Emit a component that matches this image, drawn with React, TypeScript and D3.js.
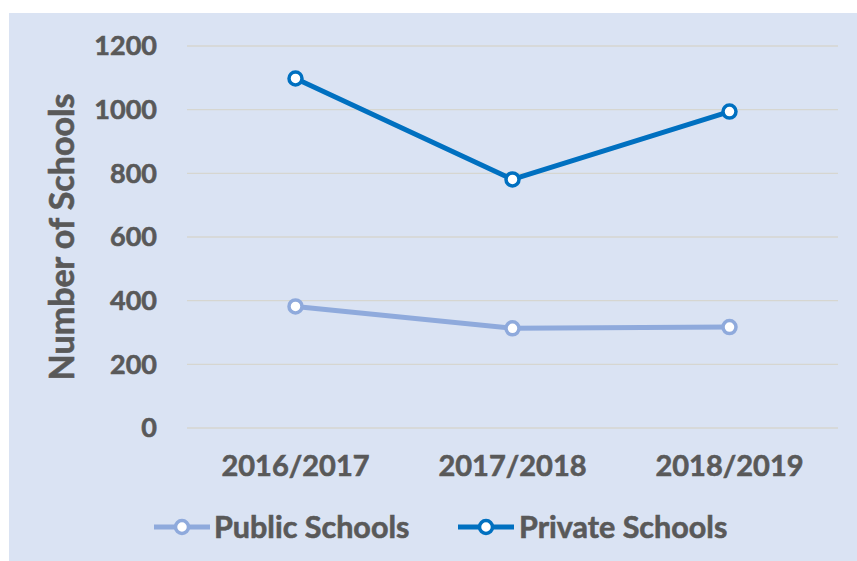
import React from 'react';
import * as d3 from 'd3';

const years = ['2016/2017', '2017/2018', '2018/2019'];
const publicSchools = [382, 313, 317];
const privateSchools = [1098, 781, 994];
const yTicks = [0, 200, 400, 600, 800, 1000, 1200];

const W = 857;
const H = 561;
const font = 'Lato, "Open Sans", sans-serif';
const textColor = '#595959';

const series = [
  { name: 'Public Schools', values: publicSchools, color: '#8faadc' },
  { name: 'Private Schools', values: privateSchools, color: '#0070c0' },
];

const App: React.FC = () => {
  const x = d3.scalePoint<string>().domain(years).range([187, 838]).padding(0.5);
  const y = d3.scaleLinear().domain([0, 1200]).range([428, 46]);

  const line = d3
    .line<number>()
    .x((_, i) => x(years[i]) as number)
    .y((d) => y(d));

  // legend positions
  const legend = [
    { lx: 154, tx: 214 },
    { lx: 458, tx: 519 },
  ];

  // slight outline so the text looks as heavy as Gill Sans bold
  const heavy = { stroke: textColor, strokeWidth: 0.6 };

  return (
    <svg
      width={W}
      height={H}
      style={{ position: 'absolute', left: 0, top: 0 }}
      fontFamily={font}
      fontWeight="bold">
      <rect x={0} y={0} width={W} height={H} fill="#ffffff" />
      <rect x={9} y={13} width={W - 9} height={H - 13} fill="#dae3f3" />

      {/* gridlines + y ticks */}
      {yTicks.map((t) => (
        <g key={t}>
          <line x1={187} x2={838} y1={y(t)} y2={y(t)} stroke="#d6d6d0" strokeWidth={1.3} />
          <text
            x={157}
            y={y(t)}
            dy="0.35em"
            textAnchor="end"
            fontSize={27}
            fill={textColor}
            {...heavy}>
            {t}
          </text>
        </g>
      ))}

      <text
        transform={`translate(74,${237}) rotate(-90)`}
        textAnchor="middle"
        fontSize={34}
        fill={textColor}
        {...heavy}>
        Number of Schools
      </text>

      {years.map((yr) => (
        <text
          key={yr}
          x={x(yr)}
          y={466}
          dy="0.35em"
          textAnchor="middle"
          fontSize={29}
          fill={textColor}
          {...heavy}>
          {yr}
        </text>
      ))}

      {series.map((s) => (
        <g key={s.name}>
          <path
            d={line(s.values) || ''}
            fill="none"
            stroke={s.color}
            strokeWidth={5}
            strokeLinejoin="round"
          />
          {s.values.map((v, i) => (
            <circle
              key={i}
              cx={x(years[i])}
              cy={y(v)}
              r={6.5}
              fill="#ffffff"
              stroke={s.color}
              strokeWidth={3.5}
            />
          ))}
        </g>
      ))}

      {series.map((s, i) => (
        <g key={s.name}>
          <line
            x1={legend[i].lx}
            x2={legend[i].lx + 56}
            y1={527}
            y2={527}
            stroke={s.color}
            strokeWidth={5}
          />
          <circle
            cx={legend[i].lx + 28}
            cy={527}
            r={6.5}
            fill="#ffffff"
            stroke={s.color}
            strokeWidth={3.5}
          />
          <text
            x={legend[i].tx}
            y={527}
            dy="0.35em"
            fontSize={30.5}
            fill={textColor}
            {...heavy}>
            {s.name}
          </text>
        </g>
      ))}
    </svg>
  );
};

export default App;
